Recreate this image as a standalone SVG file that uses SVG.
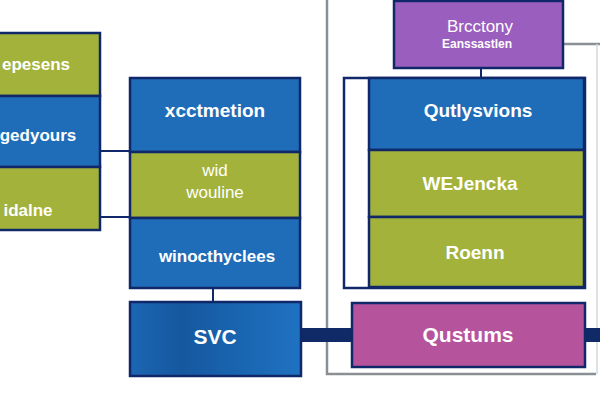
<svg xmlns="http://www.w3.org/2000/svg" width="600" height="400" viewBox="0 0 600 400">
<defs>
<style>
.box{stroke:#10286a;stroke-width:2.5}
.blue{fill:#1f6db8}
.olive{fill:#a2b23b}
.t{font-family:"Liberation Sans",Arial,sans-serif;fill:#ffffff;text-anchor:middle;dominant-baseline:central;font-weight:bold}
.t.n{font-weight:normal}
.conn{stroke:#10286a;stroke-width:2;fill:none}
.frame{stroke:#8a8f94;stroke-width:2.5;fill:none}
</style>
<linearGradient id="svcg" x1="0" y1="0" x2="1" y2="0">
<stop offset="0" stop-color="#1c66b3"/>
<stop offset="0.3" stop-color="#15589f"/>
<stop offset="1" stop-color="#1f72c2"/>
</linearGradient>
</defs>
<rect width="600" height="400" fill="#ffffff"/>
<g id="connectors">
<path class="frame" d="M327,0 V374 H596"/>
<path class="frame" d="M563,44 H600"/>
<path d="M597,44 V374" stroke="#d5d9dd" stroke-width="1.5" fill="none"/>
<path class="conn" d="M100,151 H131 M100,217 H131"/>
<path class="conn" d="M213,288 V302"/>
<path class="conn" d="M481,68 V78"/>
<path d="M301,335 H352 M585,335 H600" stroke="#0f2a66" stroke-width="14" fill="none"/>
</g>
<g id="left-top"><rect class="box olive" x="-5" y="33" width="105" height="63"/><text class="t" x="36" y="64" font-size="17">epesens</text></g>
<g id="left-mid"><rect class="box blue" x="-5" y="96" width="105" height="71"/><text class="t" x="38" y="135" font-size="17">gedyours</text></g>
<g id="left-bot"><rect class="box olive" x="-5" y="167" width="105" height="63"/><text class="t" x="28" y="210" font-size="17">idalne</text></g>
<g id="mid-top"><rect class="box blue" x="130" y="78" width="170" height="74"/><text class="t" x="215" y="110" font-size="19">xcctmetion</text></g>
<g id="mid-mid"><rect class="box olive" x="130" y="152" width="170" height="66"/><text class="t n" x="215" y="170" font-size="17">wid</text><text class="t n" x="215" y="192" font-size="17">wouline</text></g>
<g id="mid-bot"><rect class="box blue" x="130" y="218" width="170" height="70"/><text class="t" x="217" y="256" font-size="17">winocthyclees</text></g>
<g id="svc"><rect class="box" fill="url(#svcg)" x="130" y="302" width="171" height="74"/><text class="t" x="215" y="336" font-size="21">SVC</text></g>
<g id="top-purple"><rect class="box" fill="#9a5ebe" x="394" y="1" width="169" height="67"/><text class="t n" x="480" y="26" font-size="17">Brcctony</text><text class="t" x="477" y="44" font-size="12">Eanssastlen</text></g>
<g id="right-group"><rect class="box" fill="#ffffff" x="344" y="78" width="241" height="210"/></g>
<g id="right-top"><rect class="box blue" x="369" y="78" width="215" height="72"/><text class="t" x="478" y="110" font-size="19">Qutlysvions</text></g>
<g id="right-mid"><rect class="box olive" x="369" y="150" width="215" height="67"/><text class="t" x="470" y="183" font-size="19">WEJencka</text></g>
<g id="right-bot"><rect class="box olive" x="369" y="217" width="215" height="70"/><text class="t" x="475" y="252" font-size="19">Roenn</text></g>
<g id="qustums"><rect class="box" fill="#b5549c" x="352" y="303" width="233" height="64"/><text class="t" x="468" y="334" font-size="21">Qustums</text></g>
</svg>
